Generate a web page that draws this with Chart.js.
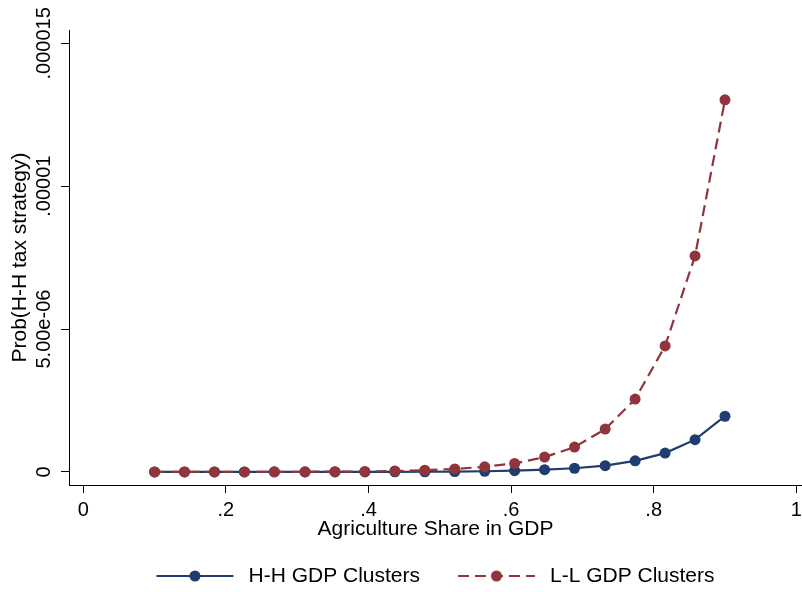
<!DOCTYPE html>
<html>
<head>
<meta charset="utf-8">
<script src="https://cdn.jsdelivr.net/npm/chart.js@4.4.1/dist/chart.umd.min.js"></script>
<style>
  html, body { margin: 0; padding: 0; background: #fff; }
  #wrap { width: 802px; height: 592px; }
</style>
</head>
<body>
<div id="wrap"><canvas id="chart" width="802" height="592"></canvas></div>
<script>
// agriculture share grid (20 points from .1 to .9)
const agriShare = [0.1, 0.142, 0.184, 0.226, 0.268, 0.311, 0.353, 0.395, 0.437, 0.479,
                   0.521, 0.563, 0.605, 0.647, 0.689, 0.732, 0.774, 0.816, 0.858, 0.9];

// predicted probabilities
const hhProb = [0.00006e-6, 0.0001e-6, 0.00017e-6, 0.0003e-6, 0.0005e-6, 0.0009e-6, 0.0016e-6,
                0.0027e-6, 0.0047e-6, 0.008e-6, 0.014e-6, 0.025e-6, 0.044e-6, 0.08e-6,
                0.13e-6, 0.22e-6, 0.39e-6, 0.66e-6, 1.13e-6, 1.95e-6];
const llProb = [0.0005e-6, 0.0008e-6, 0.0014e-6, 0.0024e-6, 0.004e-6, 0.007e-6, 0.012e-6,
                0.02e-6, 0.035e-6, 0.06e-6, 0.105e-6, 0.18e-6, 0.30e-6, 0.52e-6,
                0.87e-6, 1.5e-6, 2.55e-6, 4.41e-6, 7.56e-6, 13.02e-6];

const seriesNames = ['H-H GDP Clusters', 'L-L GDP Clusters'];

const xTickValues = [0, 0.2, 0.4, 0.6, 0.8, 1];
const xTickLabels = ['0', '.2', '.4', '.6', '.8', '1'];
const yTickValues = [0, 5e-6, 1e-5, 1.5e-5];
const yTickLabels = ['0', '5.00e-06', '.00001', '.000015'];

const FONT = '"Liberation Sans", Arial, sans-serif';
const NAVY = '#1f3d6e';
const MAROON = '#90353b';

Chart.defaults.font.family = FONT;
Chart.defaults.color = '#000';

const toPoints = (ys) => ys.map((y, i) => ({x: agriShare[i], y: y}));

// tick labels drawn by hand: y ones are rotated (stata style),
// x ones are kept out of chart.js so the plot runs to the right edge
const tickLabelsPlugin = {
    id: 'tickLabels',
    afterDraw(chart) {
        const ctx = chart.ctx;
        const sx = chart.scales.x;
        const sy = chart.scales.y;
        ctx.save();
        ctx.font = '20px ' + FONT;
        ctx.fillStyle = '#000';
        ctx.textAlign = 'center';
        ctx.textBaseline = 'middle';
        yTickValues.forEach((v, i) => {
            ctx.save();
            ctx.translate(sy.right - 24.5, sy.getPixelForValue(v));
            ctx.rotate(-Math.PI / 2);
            ctx.fillText(yTickLabels[i], 0, 0);
            ctx.restore();
        });
        xTickValues.forEach((v, i) => {
            ctx.fillText(xTickLabels[i], sx.getPixelForValue(v), sx.top + 25.5);
        });
        ctx.restore();
    }
};

// legend: line with a marker in the middle, then the label
const legendPlugin = {
    id: 'lineLegend',
    afterDraw(chart) {
        const ctx = chart.ctx;
        const area = chart.chartArea;
        const lineLen = 77, gapText = 15, gapItem = 38;
        const y = chart.height - 16;
        ctx.save();
        ctx.font = '21px ' + FONT;
        const sets = chart.data.datasets;
        const widths = sets.map(ds => lineLen + gapText + ctx.measureText(ds.label).width);
        const total = widths.reduce((a, b) => a + b, 0) + gapItem * (sets.length - 1);
        let x = (area.left + area.right) / 2 - total / 2;
        sets.forEach((ds, i) => {
            ctx.strokeStyle = ds.borderColor;
            ctx.lineWidth = ds.borderWidth;
            ctx.setLineDash(ds.borderDash || []);
            ctx.beginPath();
            ctx.moveTo(x, y);
            ctx.lineTo(x + lineLen, y);
            ctx.stroke();
            ctx.setLineDash([]);
            ctx.fillStyle = ds.pointBackgroundColor;
            ctx.beginPath();
            ctx.arc(x + lineLen / 2, y, ds.pointRadius, 0, Math.PI * 2);
            ctx.fill();
            ctx.fillStyle = '#000';
            ctx.textAlign = 'left';
            ctx.textBaseline = 'middle';
            ctx.fillText(ds.label, x + lineLen + gapText, y);
            x += widths[i] + gapItem;
        });
        ctx.restore();
    }
};

new Chart(document.getElementById('chart'), {
    type: 'line',
    data: {
        datasets: [
            {
                label: seriesNames[0],
                data: toPoints(hhProb),
                borderColor: NAVY,
                backgroundColor: NAVY,
                pointBackgroundColor: NAVY,
                pointBorderColor: NAVY,
                borderWidth: 2.2,
                pointRadius: 5.5,
                pointBorderWidth: 0,
                tension: 0,
                fill: false,
                order: 2
            },
            {
                label: seriesNames[1],
                data: toPoints(llProb),
                borderColor: MAROON,
                backgroundColor: MAROON,
                pointBackgroundColor: MAROON,
                pointBorderColor: MAROON,
                borderWidth: 2.2,
                borderDash: [11, 6],
                pointRadius: 5.5,
                pointBorderWidth: 0,
                tension: 0,
                fill: false,
                order: 1
            }
        ]
    },
    options: {
        responsive: false,
        animation: false,
        devicePixelRatio: 1,
        layout: { autoPadding: false, padding: { top: 30, left: 0, right: 0, bottom: 0 } },
        plugins: {
            legend: { display: false },
            tooltip: { enabled: false }
        },
        scales: {
            x: {
                type: 'linear',
                min: -0.02,
                max: 1.008,
                afterBuildTicks: (s) => { s.ticks = xTickValues.map(v => ({value: v})); },
                afterFit: (s) => { s.height = 107; },
                ticks: { display: false },
                grid: { drawOnChartArea: false, drawTicks: true, tickLength: 8, tickColor: '#000', tickWidth: 1 },
                border: { display: true, color: '#000', width: 1 },
                title: {
                    display: true,
                    text: 'Agriculture Share in GDP',
                    font: { size: 21 },
                    color: '#000',
                    padding: { top: 0, bottom: 50 }
                }
            },
            y: {
                type: 'linear',
                min: -0.456e-6,
                max: 15.465e-6,
                afterBuildTicks: (s) => { s.ticks = yTickValues.map(v => ({value: v})); },
                afterFit: (s) => { s.width = 69; },
                ticks: { display: false },
                grid: { drawOnChartArea: false, drawTicks: true, tickLength: 8, tickColor: '#000', tickWidth: 1 },
                border: { display: true, color: '#000', width: 1 },
                title: {
                    display: true,
                    text: 'Prob(H-H tax strategy)',
                    font: { size: 21 },
                    color: '#000',
                    padding: { top: 8, bottom: 0 }
                }
            }
        }
    },
    plugins: [tickLabelsPlugin, legendPlugin]
});
</script>
</body>
</html>
